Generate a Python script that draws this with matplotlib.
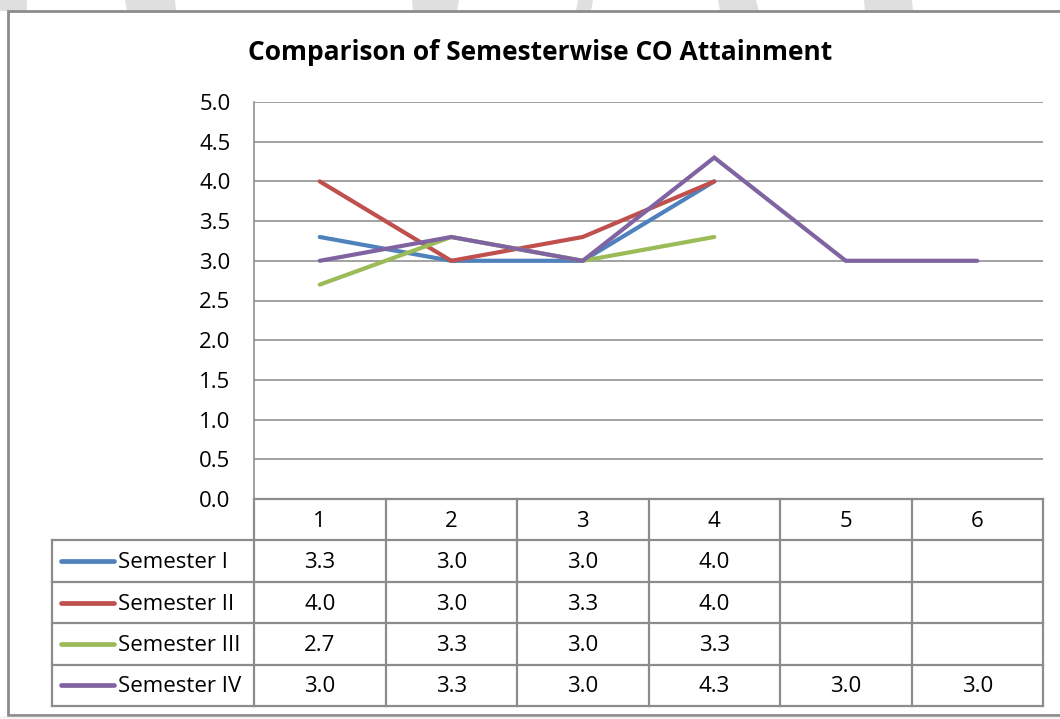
import matplotlib
matplotlib.use("Agg")
import matplotlib.pyplot as plt
from matplotlib.patches import Rectangle, Polygon
import numpy as np

categories = ["1", "2", "3", "4", "5", "6"]
series_names = ["Semester I", "Semester II", "Semester III", "Semester IV"]
sem1 = [3.3, 3.0, 3.0, 4.0, None, None]
sem2 = [4.0, 3.0, 3.3, 4.0, None, None]
sem3 = [2.7, 3.3, 3.0, 3.3, None, None]
sem4 = [3.0, 3.3, 3.0, 4.3, 3.0, 3.0]
series_values = [sem1, sem2, sem3, sem4]
colors = ["#4F81BD", "#C0504D", "#9BBB59", "#8064A2"]
yticks = [0.0, 0.5, 1.0, 1.5, 2.0, 2.5, 3.0, 3.5, 4.0, 4.5, 5.0]

plt.rcParams['font.family'] = ['Open Sans', 'DejaVu Sans']
FS = 16

W, H = 1060, 719
fig = plt.figure(figsize=(W / 100, H / 100), dpi=100)

def fx(px):
    return px / W

def fy(py):
    return 1 - py / H

# background watermark strip at top
bg = fig.add_axes([0, 0, 1, 1], zorder=-10)
bg.set_xlim(0, W)
bg.set_ylim(H, 0)
bg.axis("off")
shapes = [
    [(0, 0), (27, 0), (27, 11), (0, 11)],
    [(125, 0), (175, 0), (176, 11), (127, 11)],
    [(412, 0), (459, 0), (457, 11), (413, 11)],
    [(578, 0), (593, 0), (591, 11), (576, 11)],
    [(718, 0), (756, 0), (759, 11), (720, 11)],
    [(864, 0), (912, 0), (913, 11), (865, 11)],
]
for pts in shapes:
    bg.add_patch(Polygon(pts, closed=True, color="#DFDFDF", lw=0))
# outer chart frame
bg.add_patch(Rectangle((8, 11), W + 20, 704, fill=True, facecolor="white",
                       edgecolor="#8C8C8C", lw=2))
bg.plot([0, W], [717, 717], color="#EDEDED", lw=1)

# main plot
L, R, T, B = 254, 1043, 102, 499
ax = fig.add_axes([fx(L), fy(B), fx(R - L), (B - T) / H])
x = np.arange(1, len(categories) + 1)
for vals, c in zip(series_values, colors):
    v = np.array([np.nan if a is None else a for a in vals], dtype=float)
    ax.plot(x, v, color=c, lw=3.0, solid_capstyle="round", solid_joinstyle="miter")
ax.set_xlim(0.5, len(categories) + 0.5)
ax.set_ylim(0, 5)
ax.set_yticks(yticks)
ax.set_yticklabels([f"{t:.1f}" for t in yticks], fontsize=FS)
ax.tick_params(axis="y", length=0, pad=17)
ax.set_xticks([])
ax.yaxis.grid(True, color="#888888", lw=1.1)
ax.set_axisbelow(True)
for s in ["top", "right", "bottom"]:
    ax.spines[s].set_visible(False)
ax.spines["left"].set_color("#888888")
ax.spines["left"].set_linewidth(1.1)

fig.text(fx(540), fy(53), "Comparison of Semesterwise CO Attainment",
         ha="center", va="center", fontsize=19, fontweight="bold")

# data table
TL, TB = 52, 706
colw = (R - L) / len(categories)
legw = (L - TL) / colw
tax = fig.add_axes([fx(TL), fy(TB), fx(R - TL), (TB - B) / H])
nrows = len(series_names) + 1
tax.set_xlim(0.5 - legw, len(categories) + 0.5)
tax.set_ylim(nrows, 0)
tax.axis("off")
lc = "#8C8C8C"
lw = 1.6
for i in range(len(categories) + 1):
    tax.plot([0.5 + i, 0.5 + i], [0, nrows], color=lc, lw=lw, clip_on=False)
tax.plot([0.5, len(categories) + 0.5], [0, 0], color=lc, lw=lw, clip_on=False)
for r in range(1, nrows + 1):
    tax.plot([0.5 - legw, len(categories) + 0.5], [r, r], color=lc, lw=lw, clip_on=False)
tax.plot([0.5 - legw, 0.5 - legw], [1, nrows], color=lc, lw=lw, clip_on=False)
dy = 0.04
for i, cat in enumerate(categories):
    tax.text(i + 1, 0.5 + dy, cat, ha="center", va="center", fontsize=FS)
for r, (name, vals, c) in enumerate(zip(series_names, series_values, colors), start=1):
    x0 = 0.5 - legw
    tax.plot([x0 + 0.07, x0 + 0.47], [r + 0.5, r + 0.5], color=c, lw=3.4,
             solid_capstyle="round", clip_on=False)
    tax.text(x0 + 0.5, r + 0.5 + dy, name, ha="left", va="center", fontsize=FS)
    for i, v in enumerate(vals):
        if v is not None:
            tax.text(i + 1, r + 0.5 + dy, f"{v:.1f}", ha="center", va="center", fontsize=FS)

fig.savefig("out.png", dpi=100)
